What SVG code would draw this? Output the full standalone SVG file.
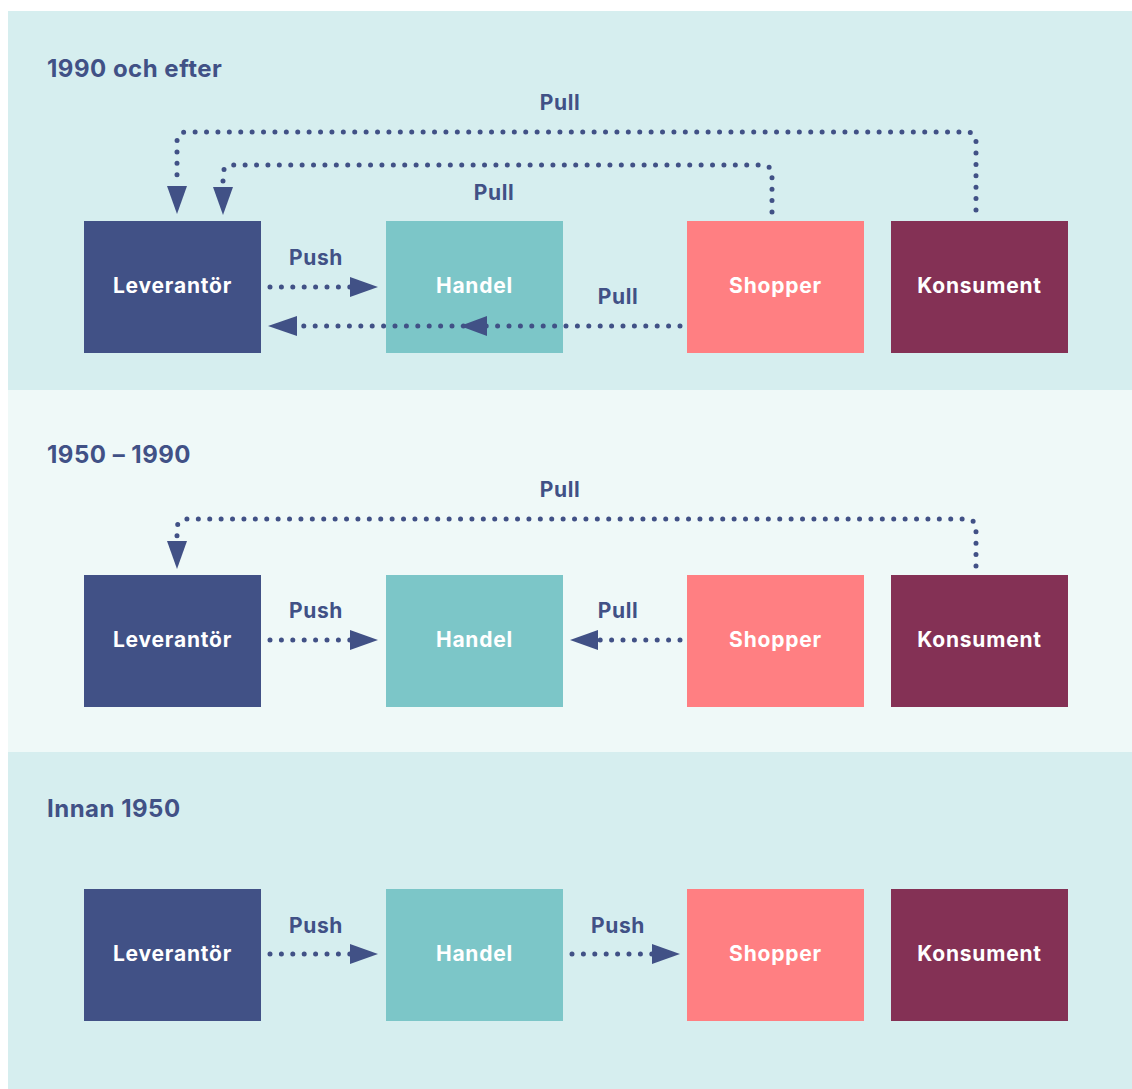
<svg xmlns="http://www.w3.org/2000/svg" width="1132" height="1089" viewBox="0 0 1132 1089">
<defs>
<style>
.bgA{fill:#D6EEEF}
.bgB{fill:#EFF9F8}
.h{font-family:Inter,"Liberation Sans",sans-serif;font-weight:700;font-size:24px;letter-spacing:0.5px;fill:#415186}
.lbl{font-family:Inter,"Liberation Sans",sans-serif;font-weight:700;font-size:21px;letter-spacing:0.6px;fill:#415186;text-anchor:middle}
.bt{font-family:Inter,"Liberation Sans",sans-serif;font-weight:700;font-size:21px;letter-spacing:0.8px;fill:#ffffff;text-anchor:middle}
.lev{fill:#415186}.han{fill:#7CC6C8}.sho{fill:#FF7F82}.kon{fill:#843155}
.dot{fill:none;stroke:#415186;stroke-width:5;stroke-linecap:round;stroke-dasharray:0 11.4}
.ah{fill:#415186}
</style>
</defs>
<rect width="1132" height="1089" fill="#ffffff"/>
<rect class="bgA" x="8" y="11" width="1124" height="379"/>
<rect class="bgB" x="8" y="390" width="1124" height="362"/>
<rect class="bgA" x="8" y="752" width="1124" height="337"/>

<text class="h" x="47" y="77">1990 och efter</text>
<text class="h" x="47" y="463">1950 – 1990</text>
<text class="h" x="47" y="817">Innan 1950</text>

<g id="r1-leverantor"><rect class="lev" x="84" y="221" width="177" height="132"/><text class="bt" x="172.5" y="293">Leverantör</text></g>
<g id="r1-handel"><rect class="han" x="386" y="221" width="177" height="132"/><text class="bt" x="474.5" y="293">Handel</text></g>
<g id="r1-shopper"><rect class="sho" x="687" y="221" width="177" height="132"/><text class="bt" x="775.5" y="293">Shopper</text></g>
<g id="r1-konsument"><rect class="kon" x="891" y="221" width="177" height="132"/><text class="bt" x="979.5" y="293">Konsument</text></g>

<g id="r2-leverantor"><rect class="lev" x="84" y="575" width="177" height="132"/><text class="bt" x="172.5" y="647">Leverantör</text></g>
<g id="r2-handel"><rect class="han" x="386" y="575" width="177" height="132"/><text class="bt" x="474.5" y="647">Handel</text></g>
<g id="r2-shopper"><rect class="sho" x="687" y="575" width="177" height="132"/><text class="bt" x="775.5" y="647">Shopper</text></g>
<g id="r2-konsument"><rect class="kon" x="891" y="575" width="177" height="132"/><text class="bt" x="979.5" y="647">Konsument</text></g>

<g id="r3-leverantor"><rect class="lev" x="84" y="889" width="177" height="132"/><text class="bt" x="172.5" y="961">Leverantör</text></g>
<g id="r3-handel"><rect class="han" x="386" y="889" width="177" height="132"/><text class="bt" x="474.5" y="961">Handel</text></g>
<g id="r3-shopper"><rect class="sho" x="687" y="889" width="177" height="132"/><text class="bt" x="775.5" y="961">Shopper</text></g>
<g id="r3-konsument"><rect class="kon" x="891" y="889" width="177" height="132"/><text class="bt" x="979.5" y="961">Konsument</text></g>

<g id="connectors">
<!-- row 1 -->
<path class="dot" d="M976 210 V142 Q976 132 966 132 H187 Q177 132 177 142 V186"/>
<polygon class="ah" points="167,186 187,186 177,214"/>
<path class="dot" d="M772 212 V175 Q772 165 762 165 H233 Q223 165 223 175 V187"/>
<polygon class="ah" points="213,187 233,187 223,215"/>
<path class="dot" d="M270 287 H350"/>
<polygon class="ah" points="350,277 378,287 350,297"/>
<path class="dot" d="M680 326 H297"/>
<polygon class="ah" points="297,316 268,326 297,336"/>
<polygon class="ah" points="487,316 460,326 487,336"/>
<text class="lbl" x="560" y="110">Pull</text>
<text class="lbl" x="494" y="200">Pull</text>
<text class="lbl" x="316" y="265">Push</text>
<text class="lbl" x="618" y="304">Pull</text>
<!-- row 2 -->
<path class="dot" d="M976 566 V529 Q976 519 966 519 H187 Q177 519 177 529 V541"/>
<polygon class="ah" points="167,541 187,541 177,569"/>
<path class="dot" d="M270 640 H350"/>
<polygon class="ah" points="350,630 378,640 350,650"/>
<path class="dot" d="M680 640 H598"/>
<polygon class="ah" points="598,630 570,640 598,650"/>
<text class="lbl" x="560" y="497">Pull</text>
<text class="lbl" x="316" y="618">Push</text>
<text class="lbl" x="618" y="618">Pull</text>
<!-- row 3 -->
<path class="dot" d="M270 954 H350"/>
<polygon class="ah" points="350,944 378,954 350,964"/>
<path class="dot" d="M572 954 H652"/>
<polygon class="ah" points="652,944 680,954 652,964"/>
<text class="lbl" x="316" y="933">Push</text>
<text class="lbl" x="618" y="933">Push</text>
</g>
</svg>
